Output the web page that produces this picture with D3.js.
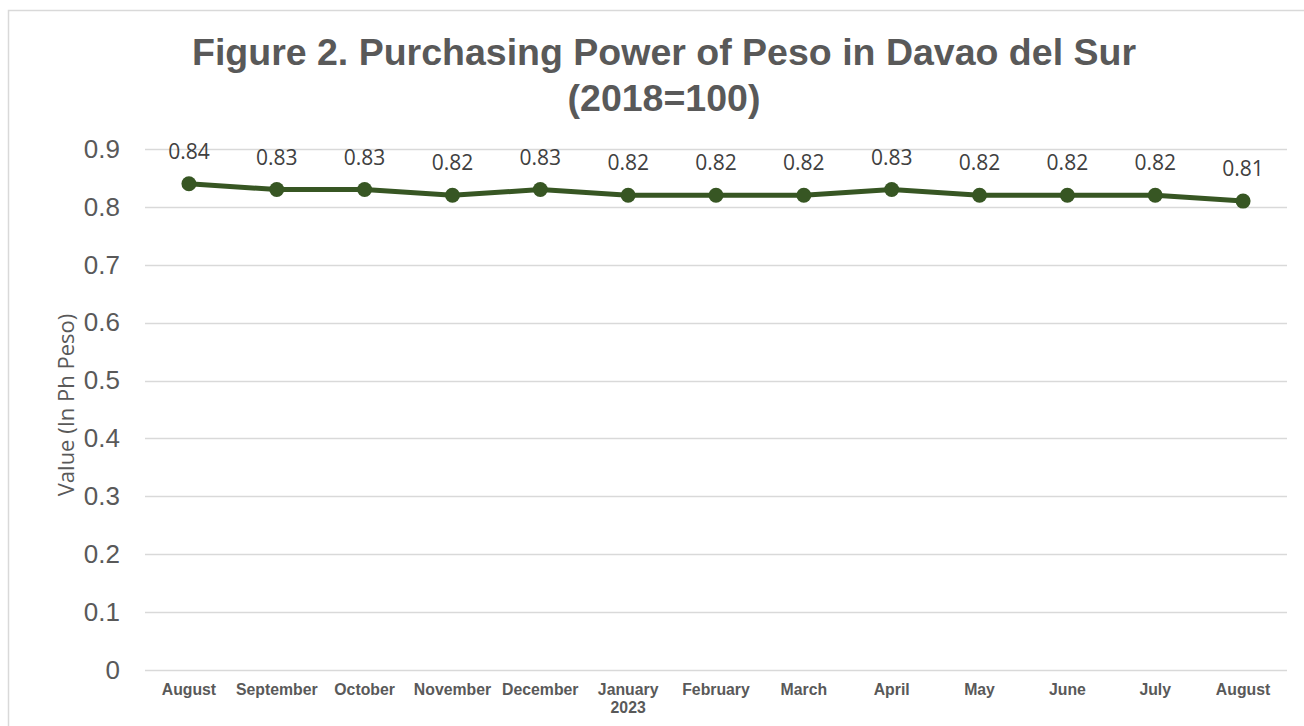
<!DOCTYPE html>
<html>
<head>
<meta charset="utf-8">
<script src="https://cdn.jsdelivr.net/npm/d3@7"></script>
<style>
	body { margin: 0; background: #fff; }
	svg { display: block; }
</style>
</head>
<body>
<svg id="chart" width="1304" height="726"></svg>
<script>
// data
var months = ['August', 'September', 'October', 'November', 'December', 'January', 'February',
	'March', 'April', 'May', 'June', 'July', 'August'];
var subLabels = ['', '', '', '', '', '2023', '', '', '', '', '', '', ''];
var values = [0.84, 0.83, 0.83, 0.82, 0.83, 0.82, 0.82, 0.82, 0.83, 0.82, 0.82, 0.82, 0.81];
var yTicks = [0, 0.1, 0.2, 0.3, 0.4, 0.5, 0.6, 0.7, 0.8, 0.9];

var svg = d3.select('#chart');
var grey = '#595959';
var green = '#375623';

var plotLeft = 145, plotRight = 1287, plotTop = 149, plotBottom = 670;

// chart border (runs off the right and bottom of the picture)
svg.append('rect')
	.attr('x', 8.5).attr('y', 10.5).attr('width', 1400).attr('height', 800)
	.attr('fill', 'none').attr('stroke', '#d9d9d9').attr('stroke-width', 1.5);

// title
var title = svg.append('text')
	.attr('x', 664).attr('y', 65)
	.attr('text-anchor', 'middle')
	.attr('font-family', 'Liberation Sans, Arial, sans-serif')
	.attr('font-weight', 'bold').attr('font-size', 37.5)
	.attr('fill', grey);
title.append('tspan').attr('x', 664).text('Figure 2. Purchasing Power of Peso in Davao del Sur');
title.append('tspan').attr('x', 664).attr('dy', 46).text('(2018=100)');

var idx = d3.range(months.length);
var x = d3.scaleBand().domain(idx).range([plotLeft, plotRight]);
var y = d3.scaleLinear().domain([0, 0.9]).range([plotBottom, plotTop]);

// gridlines
svg.append('g').selectAll('line').data(yTicks).enter().append('line')
	.attr('x1', plotLeft).attr('x2', plotRight)
	.attr('y1', function(d) { return Math.round(y(d)) + 0.5; })
	.attr('y2', function(d) { return Math.round(y(d)) + 0.5; })
	.attr('stroke', '#d9d9d9').attr('stroke-width', 1.5);

// y axis labels
var yAxis = svg.append('g')
	.attr('transform', 'translate(' + (plotLeft - 25) + ',0)')
	.call(d3.axisLeft(y).tickValues(yTicks).tickSize(0).tickPadding(0)
		.tickFormat(function(d) { return d === 0 ? '0' : d3.format('.1f')(d); }));
yAxis.select('.domain').remove();
yAxis.selectAll('text')
	.attr('font-family', 'Liberation Sans, Arial, sans-serif')
	.attr('font-size', 26).attr('fill', grey);

svg.append('text')
	.attr('transform', 'translate(74,405) rotate(-90)')
	.attr('text-anchor', 'middle')
	.attr('font-family', 'Open Sans, sans-serif')
	.attr('font-size', 22).attr('fill', grey)
	.text('Value (In Ph Peso)');

// x axis labels
var xAxis = svg.append('g')
	.attr('transform', 'translate(0,' + plotBottom + ')')
	.call(d3.axisBottom(x).tickSize(0).tickPadding(0).tickFormat(function(i) { return months[i]; }));
xAxis.select('.domain').remove();
xAxis.selectAll('text')
	.attr('dy', null).attr('y', 25)
	.attr('font-family', 'Liberation Sans, Arial, sans-serif')
	.attr('font-weight', 'bold').attr('font-size', 15.8).attr('fill', grey);
xAxis.selectAll('.tick').filter(function(i) { return subLabels[i]; })
	.append('text')
	.attr('y', 43).attr('text-anchor', 'middle')
	.attr('font-family', 'Liberation Sans, Arial, sans-serif')
	.attr('font-weight', 'bold').attr('font-size', 15.8).attr('fill', grey)
	.text(function(i) { return subLabels[i]; });

function cx(i) { return x(i) + x.bandwidth() / 2; }

// line + markers
var line = d3.line()
	.x(function(d, i) { return cx(i); })
	.y(function(d) { return y(d); });

svg.append('path').datum(values)
	.attr('d', line)
	.attr('fill', 'none').attr('stroke', green).attr('stroke-width', 5)
	.attr('stroke-linejoin', 'round');

svg.append('g').selectAll('circle').data(values).enter().append('circle')
	.attr('cx', function(d, i) { return cx(i); })
	.attr('cy', function(d) { return y(d); })
	.attr('r', 7.5).attr('fill', green);

// data labels
svg.append('g').selectAll('text').data(values).enter().append('text')
	.attr('x', function(d, i) { return cx(i); })
	.attr('y', function(d) { return y(d) - 25; })
	.attr('text-anchor', 'middle')
	.attr('font-family', 'Open Sans, sans-serif')
	.attr('font-size', 21).attr('fill', '#404040')
	.text(function(d) { return d3.format('.2f')(d); });
</script>
</body>
</html>
